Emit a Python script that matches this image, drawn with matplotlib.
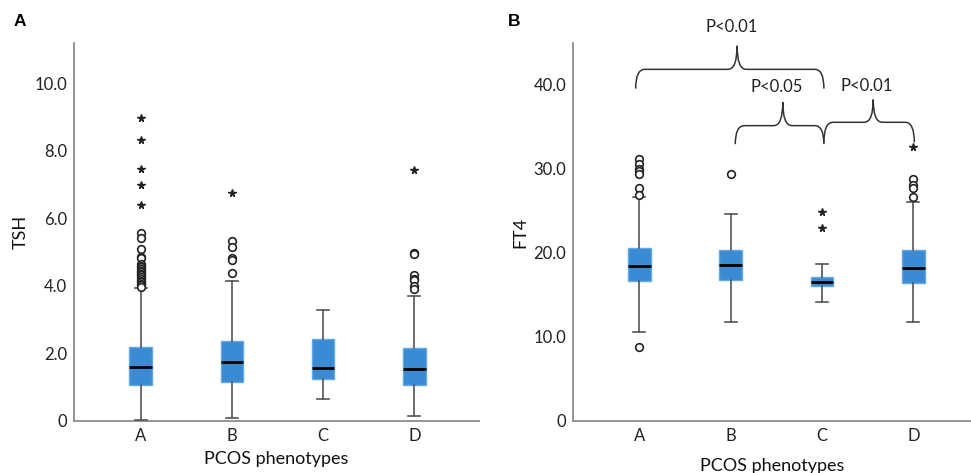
import matplotlib.pyplot as plt
from matplotlib.path import Path
from matplotlib.patches import PathPatch

plt.rcParams['font.family'] = ['Lato', 'DejaVu Sans']

groups = ["A", "B", "C", "D"]

# TSH box statistics
tsh_q1 = [1.06, 1.14, 1.24, 1.05]
tsh_med = [1.60, 1.73, 1.56, 1.53]
tsh_q3 = [2.20, 2.37, 2.43, 2.17]
tsh_lo = [0.02, 0.07, 0.63, 0.14]
tsh_hi = [3.93, 4.14, 3.28, 3.70]
tsh_circles = [
    [5.58, 5.42, 5.08, 4.86, 4.82, 4.66, 4.60, 4.55, 4.50, 4.45, 4.40, 4.36,
     4.32, 4.26, 4.20, 4.14, 4.10, 4.05, 4.01, 3.97],
    [5.33, 5.16, 4.82, 4.78, 4.37],
    [],
    [4.97, 4.93, 4.33, 4.20, 4.16, 3.98, 3.90],
]
tsh_stars = [[8.97, 8.32, 7.47, 6.98, 6.41], [6.75], [], [7.42]]

# FT4 box statistics
ft4_q1 = [16.6, 16.7, 16.0, 16.4]
ft4_med = [18.4, 18.5, 16.5, 18.2]
ft4_q3 = [20.6, 20.3, 17.1, 20.3]
ft4_lo = [10.6, 11.7, 14.1, 11.7]
ft4_hi = [26.6, 24.6, 18.7, 26.0]
ft4_circles = [
    [31.1, 30.5, 30.0, 29.7, 29.4, 27.7, 26.9, 8.8],
    [29.3],
    [],
    [28.8, 28.0, 27.7, 26.6],
]
ft4_stars = [[], [], [24.8, 22.9], [32.6]]

# significance braces: (from group, to group, label)
brackets = [(0, 2, "P<0.01"), (1, 2, "P<0.05"), (2, 3, "P<0.01")]

BOX_FACE = "#3a8bd3"
BOX_EDGE = "#62a9e6"
GREY = "#8c8c8c"


def draw_boxes(ax, q1, med, q3, lo, hi, circles, stars):
    stats = []
    for i, g in enumerate(groups):
        stats.append(dict(label=g, q1=q1[i], med=med[i], q3=q3[i],
                          whislo=lo[i], whishi=hi[i], fliers=[]))
    pos = range(1, len(groups) + 1)
    ax.bxp(stats, positions=pos, widths=0.25, showfliers=False, patch_artist=True,
           boxprops=dict(facecolor=BOX_FACE, edgecolor=BOX_EDGE, lw=1.0),
           medianprops=dict(color="black", lw=2.0),
           whiskerprops=dict(color="#555555", lw=1.2),
           capprops=dict(color="#555555", lw=1.2),
           capwidths=0.13, zorder=3)
    for i in range(len(groups)):
        if circles[i]:
            ax.plot([i + 1] * len(circles[i]), circles[i], ls="none", marker="o",
                    ms=5.5, mfc="white", mec="#222222", mew=1.2, zorder=4)
        if stars[i]:
            ax.plot([i + 1] * len(stars[i]), stars[i], ls="none", marker="*",
                    ms=5.5, color="#222222", zorder=4)


def style_axes(ax, ylabel, ylim, yticks, xlim):
    ax.set_xlim(xlim)
    ax.set_ylim(ylim)
    ax.set_yticks(yticks)
    ax.set_yticklabels(["0"] + ["%.1f" % t for t in yticks[1:]])
    ax.set_xticks(range(1, len(groups) + 1))
    ax.set_xticklabels(groups)
    for s in ["top", "right"]:
        ax.spines[s].set_visible(False)
    for s in ["left", "bottom"]:
        ax.spines[s].set_color(GREY)
        ax.spines[s].set_linewidth(1.3)
    ax.tick_params(length=0, labelsize=12, colors="#222222", pad=5)
    ax.set_ylabel(ylabel, fontsize=13, color="#111111")


def brace(ax, x0, x1, xp, y_end, y_h, y_pk, r=0.1):
    verts = [(x0, y_end), (x0, y_h), (x0 + r, y_h),
             (xp - r, y_h), (xp, y_h), (xp, y_pk),
             (xp, y_h), (xp + r, y_h),
             (x1 - r, y_h), (x1, y_h), (x1, y_end)]
    codes = [Path.MOVETO, Path.CURVE3, Path.CURVE3,
             Path.LINETO, Path.CURVE3, Path.CURVE3,
             Path.CURVE3, Path.CURVE3,
             Path.LINETO, Path.CURVE3, Path.CURVE3]
    ax.add_patch(PathPatch(Path(verts, codes), fc="none", ec="#333333", lw=1.1,
                           clip_on=False))


fig = plt.figure(figsize=(9.71, 4.73), dpi=100)
axA = fig.add_axes([0.0762, 0.1106, 0.4171, 0.7984])
axB = fig.add_axes([0.5904, 0.1106, 0.4096, 0.7979])

draw_boxes(axA, tsh_q1, tsh_med, tsh_q3, tsh_lo, tsh_hi, tsh_circles, tsh_stars)
style_axes(axA, "TSH", (0, 11.2), [0, 2, 4, 6, 8, 10], (0.268, 4.71))
axA.set_xlabel("PCOS phenotypes", fontsize=13, labelpad=5, color="#111111")

draw_boxes(axB, ft4_q1, ft4_med, ft4_q3, ft4_lo, ft4_hi, ft4_circles, ft4_stars)
style_axes(axB, "FT4", (0, 44.9), [0, 10, 20, 30, 40], (0.277, 4.63))
axB.set_xlabel("PCOS phenotypes", fontsize=13, labelpad=10, color="#111111")

# braces and p-values
brace_geom = [
    # x-left, x-right, x-peak, y-end, y-horizontal, y-peak, text x, text y
    (0.96, 3.02, 2.07, 39.5, 41.8, 44.6, 2.01, 46.8),
    (2.05, 3.02, 2.57, 32.9, 35.1, 37.9, 2.50, 39.7),
    (3.02, 4.01, 3.56, 33.1, 35.5, 38.2, 3.49, 39.8),
]
for (g0, g1, lab), (xl, xr, xp, ye, yh, yp, tx, ty) in zip(brackets, brace_geom):
    brace(axB, xl, xr, xp, ye, yh, yp)
    axB.text(tx, ty, lab, ha="center", va="center", fontsize=12,
             color="#222222", clip_on=False)

fig.text(0.0144, 0.955, "A", fontsize=12.5, fontweight="bold",
         family=["Liberation Sans", "DejaVu Sans"], ha="left", va="center")
fig.text(0.523, 0.955, "B", fontsize=12.5, fontweight="bold",
         family=["Liberation Sans", "DejaVu Sans"], ha="left", va="center")

fig.savefig("out.png", dpi=100)
